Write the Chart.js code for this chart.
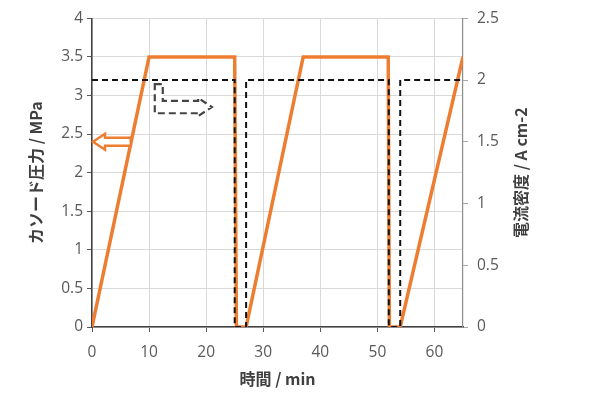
<!DOCTYPE html>
<html>
<head>
<meta charset="utf-8">
<script src="https://cdn.jsdelivr.net/npm/chart.js@4/dist/chart.umd.min.js"></script>
<style>
  html, body { margin: 0; padding: 0; background: #fff; }
  #wrap { width: 600px; height: 409px; }
</style>
</head>
<body>
<div id="wrap"><canvas id="myChart"></canvas></div>
<script>
// time (min) and cathode pressure (MPa)
const pressureTime = [0, 10, 25, 25.3, 27, 37, 51.9, 52.1, 54, 65];
const pressureVals = [0, 3.5, 3.5, 0, 0, 3.5, 3.5, 0, 0, 3.5];
// time (min) and current density (A cm-2)
const currentTime = [0, 25, 25, 27, 27, 52, 52, 54, 54, 65];
const currentVals = [2, 2, 0, 0, 2, 2, 0, 0, 2, 2];

const xTicks = [0, 10, 20, 30, 40, 50, 60];
const rightTitle = '電流密度 / A cm-2';

const tickFont = { family: 'Open Sans, Noto Sans, sans-serif', size: 15.5 };
const titleFont = { family: 'Noto Sans CJK JP, sans-serif', size: 16, weight: 'bold' };
const tickColor = '#595959';
const plain = (v) => String(v);

// arrows showing which axis each line belongs to, plus right axis title
const arrowPlugin = {
  id: 'arrows',
  afterDatasetsDraw(chart) {
    const { ctx, scales } = chart;
    const x = scales.x, y = scales.y;
    ctx.save();
    // orange hollow arrow pointing to left axis
    const tipX = x.getPixelForValue(0) + 1;
    const cy = y.getPixelForValue(2.4);
    const endX = x.getPixelForValue(6.8);
    ctx.beginPath();
    ctx.moveTo(tipX, cy);
    ctx.lineTo(tipX + 12, cy - 8);
    ctx.lineTo(tipX + 12, cy - 4);
    ctx.lineTo(endX, cy - 4);
    ctx.lineTo(endX, cy + 4);
    ctx.lineTo(tipX + 12, cy + 4);
    ctx.lineTo(tipX + 12, cy + 8);
    ctx.closePath();
    ctx.fillStyle = '#fff';
    ctx.fill();
    ctx.strokeStyle = '#ED7D31';
    ctx.lineWidth = 2.5;
    ctx.stroke();

    // dashed bent arrow pointing to right axis
    const l = x.getPixelForValue(11);
    const r = x.getPixelForValue(12.4);
    const top = y.getPixelForValue(3.2);
    const bTop = y.getPixelForValue(2.93);
    const bBot = y.getPixelForValue(2.77);
    const bodyEnd = x.getPixelForValue(18.6);
    const tip = x.getPixelForValue(21);
    const bMid = (bTop + bBot) / 2;
    ctx.beginPath();
    ctx.moveTo(l, top + 4);
    ctx.lineTo(r, top + 4);
    ctx.lineTo(r, bTop);
    ctx.lineTo(bodyEnd, bTop);
    ctx.lineTo(bodyEnd, bMid - 9);
    ctx.lineTo(tip, bMid);
    ctx.lineTo(bodyEnd, bMid + 9);
    ctx.lineTo(bodyEnd, bBot);
    ctx.lineTo(l, bBot);
    ctx.closePath();
    ctx.fillStyle = '#fff';
    ctx.fill();
    ctx.setLineDash([7, 4]);
    ctx.strokeStyle = '#444';
    ctx.lineWidth = 2.2;
    ctx.stroke();
    ctx.setLineDash([]);

    // right axis title, read bottom-to-top
    const area = chart.chartArea;
    ctx.translate(521, (area.top + area.bottom) / 2);
    ctx.rotate(-Math.PI / 2);
    ctx.font = 'bold 16px "Noto Sans CJK JP", sans-serif';
    ctx.fillStyle = '#404040';
    ctx.textAlign = 'center';
    ctx.textBaseline = 'middle';
    ctx.fillText(rightTitle, 0, 0);
    ctx.restore();
  }
};

const pressureData = pressureTime.map((t, i) => ({ x: t, y: pressureVals[i] }));
const currentData = currentTime.map((t, i) => ({ x: t, y: currentVals[i] }));

const config = {
  type: 'line',
  data: {
    datasets: [
      {
        label: 'カソード圧力',
        data: pressureData,
        yAxisID: 'y',
        borderColor: '#ED7D31',
        borderWidth: 3.5,
        pointRadius: 0,
        tension: 0,
        order: 1
      },
      {
        label: '電流密度',
        data: currentData,
        yAxisID: 'y2',
        borderColor: '#111',
        borderWidth: 2,
        borderDash: [6, 4],
        pointRadius: 0,
        tension: 0,
        order: 0
      }
    ]
  },
  options: {
    responsive: true,
    maintainAspectRatio: false,
    animation: false,
    layout: { padding: { left: 22, right: 65, top: 18, bottom: 20 } },
    plugins: { legend: { display: false }, tooltip: { enabled: false } },
    scales: {
      x: {
        type: 'linear',
        min: 0,
        max: 65,
        afterBuildTicks: (scale) => { scale.ticks = xTicks.map(v => ({ value: v })); },
        ticks: { color: tickColor, font: tickFont, padding: 11, callback: plain },
        grid: { color: '#d9d9d9', tickLength: 5, tickColor: '#595959' },
        border: { color: '#404040', width: 1.5 },
        title: { display: true, text: '時間 / min', color: '#404040', font: titleFont, padding: { top: 6, bottom: 0 } },
        afterFit: (scale) => { scale.height = 62; }
      },
      y: {
        position: 'left',
        min: 0,
        max: 4,
        ticks: { stepSize: 0.5, color: tickColor, font: tickFont, padding: 4, callback: plain },
        grid: { color: '#d9d9d9', tickLength: 5, tickColor: '#595959' },
        border: { color: '#404040', width: 1.5 },
        title: { display: true, text: 'カソード圧力 / MPa', color: '#404040', font: titleFont, padding: { top: 4, bottom: 4 } },
        afterFit: (scale) => { scale.width = 70; }
      },
      y2: {
        position: 'right',
        min: 0,
        max: 2.5,
        ticks: { stepSize: 0.5, color: tickColor, font: tickFont, padding: 9, callback: plain },
        grid: { drawOnChartArea: false, tickLength: 5, tickColor: '#a6a6a6' },
        border: { color: '#8c8c8c', width: 1.2 },
        title: { display: false },
        afterFit: (scale) => { scale.width = 72; }
      }
    }
  },
  plugins: [arrowPlugin]
};

const myChart = new Chart(document.getElementById('myChart'), config);
</script>
</body>
</html>
